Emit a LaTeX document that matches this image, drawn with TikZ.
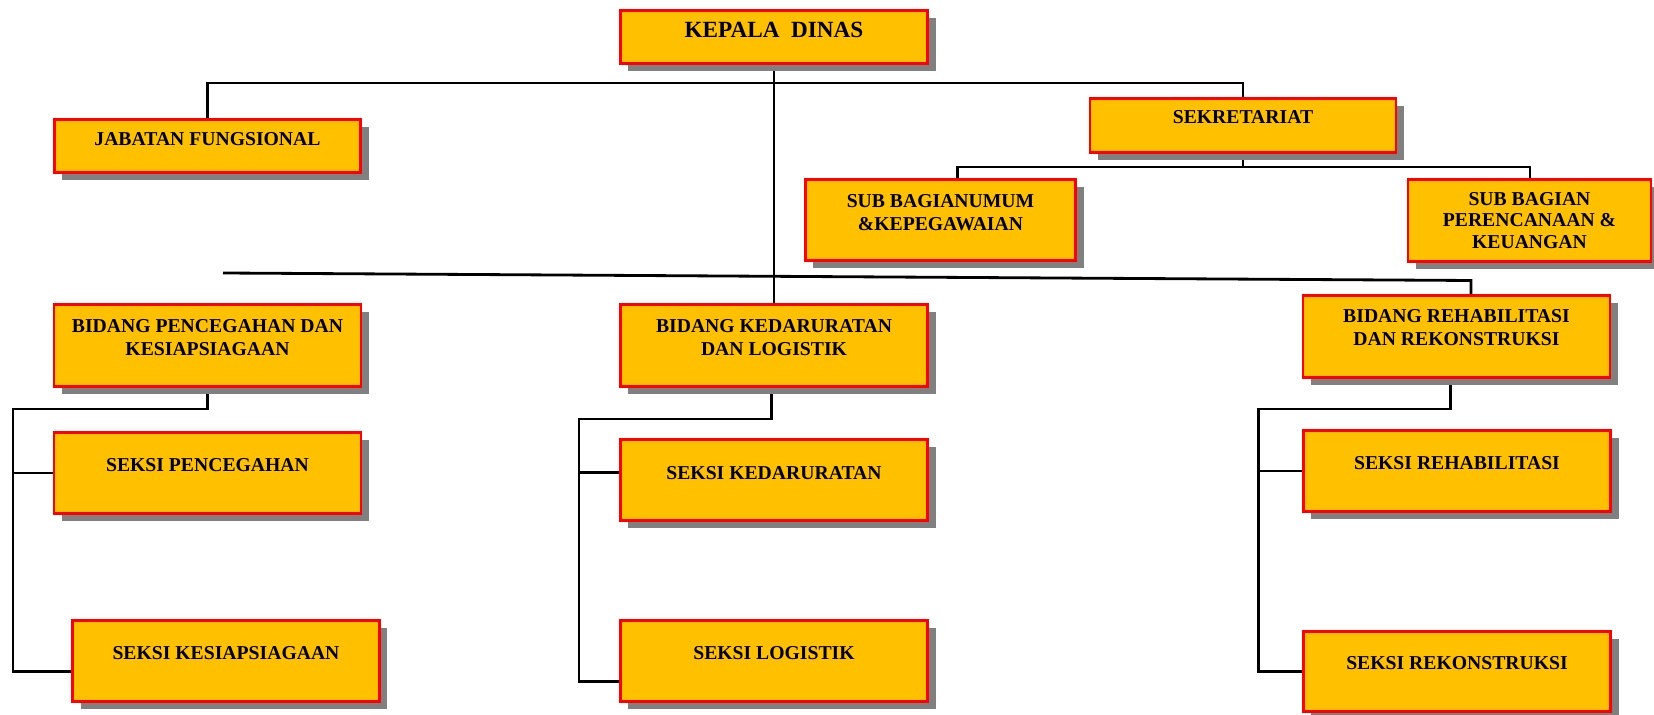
\documentclass[tikz,border=0pt]{standalone}
\usepackage{fontspec}
\setmainfont{Liberation Serif}
\usetikzlibrary{shadows,backgrounds}

\definecolor{unitfill}{HTML}{FFC000}
\definecolor{unitline}{HTML}{FF0000}
\definecolor{unitshadow}{HTML}{808080}

\tikzset{
  unit/.style={draw=unitline,fill=unitfill,line width=1.6pt,inner sep=0pt,
    minimum width=6.14cm,minimum height=1.63cm,
    drop shadow={opacity=1,fill=unitshadow,shadow xshift=0.16cm,shadow yshift=-0.15cm}},
  unittext/.style={anchor=north,inner sep=0pt,align=center,
    font=\fontsize{11.2}{13}\selectfont\bfseries},
  bar/.style={line width=1.6pt,black,line join=miter}
}

\begin{document}
\begin{tikzpicture}[x=0.02cm,y=-0.02cm]
  \useasboundingbox (0,0) rectangle (1654,715);

%top
  \node [unit,minimum width=6.15cm,minimum height=1.07cm,
    label={[unittext,font=\fontsize{13.2}{15}\selectfont\bfseries,yshift=-0.26cm]north:KEPALA\ \ DINAS}]
    (kepala) at (774,37) {};
  \node [unit,minimum width=6.13cm,minimum height=1.07cm,
    label={[unittext,yshift=-0.29cm]north:JABATAN FUNGSIONAL}] (jabatan) at (207.5,146) {};
  \node [unit,minimum width=6.12cm,minimum height=1.09cm,
    label={[unittext,yshift=-0.27cm]north:SEKRETARIAT}] (sekretariat) at (1243,125.5) {};
%sub bagian
  \node [unit,minimum width=5.41cm,
    label={[unittext,yshift=-0.33cm]north:{SUB BAGIANUMUM\\\&KEPEGAWAIAN}}] (subumum) at (940.5,220) {};
  \node [unit,minimum width=4.86cm,
    label={[unittext,yshift=-0.27cm,font=\fontsize{11.2}{12.2}\selectfont\bfseries]north:{SUB BAGIAN\\PERENCANAAN \&\\KEUANGAN}}]
    (subrencana) at (1529.5,220.5) {};
%bidang
  \node [unit,minimum height=1.65cm,
    label={[unittext,yshift=-0.32cm]north:{BIDANG PENCEGAHAN DAN\\KESIAPSIAGAAN}}] (bidcegah) at (207.5,345.5) {};
  \node [unit,minimum width=6.15cm,minimum height=1.65cm,
    label={[unittext,yshift=-0.32cm]north:{BIDANG KEDARURATAN\\DAN LOGISTIK}}] (biddarurat) at (774,345.5) {};
  \node [unit,minimum height=1.65cm,
    label={[unittext,yshift=-0.31cm]north:{BIDANG REHABILITASI\\DAN REKONSTRUKSI}}] (bidrehab) at (1456.5,336.5) {};
%seksi
  \node [unit,label={[unittext,yshift=-0.55cm]north:SEKSI PENCEGAHAN}] (sekcegah) at (207.5,473) {};
  \node [unit,label={[unittext,yshift=-0.54cm]north:SEKSI KESIAPSIAGAAN}] (seksiaga) at (226,661) {};
  \node [unit,minimum width=6.15cm,
    label={[unittext,yshift=-0.56cm]north:SEKSI KEDARURATAN}] (sekdarurat) at (774,480) {};
  \node [unit,minimum width=6.15cm,
    label={[unittext,yshift=-0.54cm]north:SEKSI LOGISTIK}] (seklogistik) at (774,661) {};
  \node [unit,minimum width=6.15cm,
    label={[unittext,yshift=-0.54cm]north:SEKSI REHABILITASI}] (sekrehab) at (1457,471) {};
  \node [unit,minimum width=6.15cm,minimum height=1.61cm,
    label={[unittext,yshift=-0.53cm]north:SEKSI REKONSTRUKSI}] (sekrekon) at (1457,671.5) {};

  \begin{pgfonlayer}{background}
  \coordinate (topbar) at (774,83);
  \coordinate (subbar) at (1243,167);
  \coordinate (lowstart) at (223,273);
  \coordinate (rehabknee) at (1471,280.5);
  \coordinate (cegahbus) at (13,409);
  \coordinate (darurbus) at (579,419);
  \coordinate (rehabbus) at (1258.6,409);
  \coordinate (darurtap) at ([yshift=0.15cm]sekdarurat.west);
%v
  \draw [bar] (kepala.south) -- (biddarurat.north);
%h
  \draw [bar] (jabatan.north) |- (topbar) -| (sekretariat.north);
  \draw [bar] (sekretariat.south) -- (subbar);
  \draw [bar] ([xshift=0.34cm]subumum.north) |- (subbar) -| ([xshift=0.01cm]subrencana.north);
  \draw [bar] (lowstart) -- (rehabknee) -- (rehabknee |- bidrehab.north);
%left block
  \draw [bar] (bidcegah.south) |- (cegahbus) |- ([yshift=-0.21cm]seksiaga.west);
  \draw [bar] (cegahbus |- sekcegah.west) -- (sekcegah.west);
%middle block
  \draw [bar] ([xshift=-0.05cm]biddarurat.south) |- (darurbus) |- ([yshift=-0.41cm]seklogistik.west);
  \draw [bar] (darurbus |- darurtap) -- (darurtap);
%right block
  \draw [bar] ([xshift=-0.12cm]bidrehab.south) |- (rehabbus) |- (sekrekon.west);
  \draw [bar] (rehabbus |- sekrehab.west) -- (sekrehab.west);
  \end{pgfonlayer}
\end{tikzpicture}
\end{document}
